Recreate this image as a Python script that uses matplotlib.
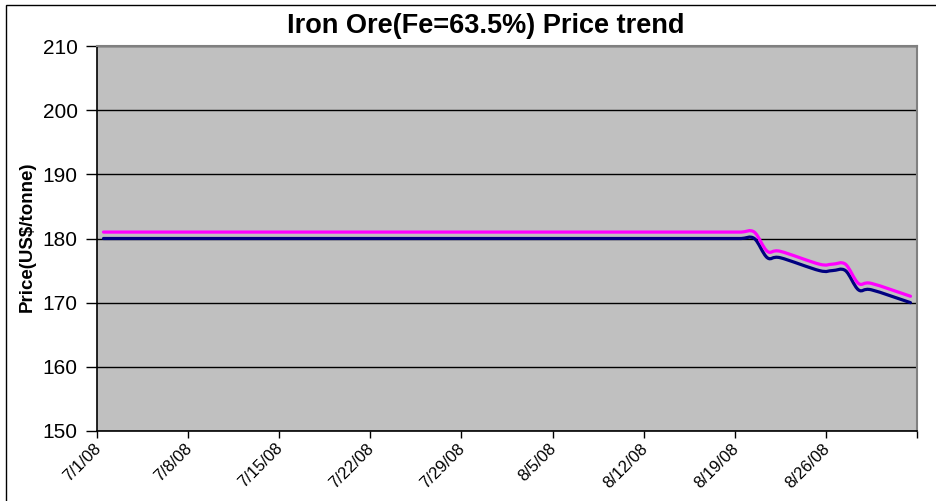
import matplotlib
matplotlib.use("Agg")
import matplotlib.pyplot as plt
import matplotlib.dates as mdates
import matplotlib.transforms as mtransforms
from matplotlib.path import Path
from matplotlib.patches import PathPatch, Rectangle
import numpy as np
import pandas as pd

plt.rcParams['font.family'] = ['Liberation Sans', 'DejaVu Sans']

# ---------------- data ----------------
dates = [
    "2008-07-01", "2008-07-02", "2008-07-03", "2008-07-04", "2008-07-07",
    "2008-07-08", "2008-07-09", "2008-07-10", "2008-07-11", "2008-07-14",
    "2008-07-15", "2008-07-16", "2008-07-17", "2008-07-18", "2008-07-21",
    "2008-07-22", "2008-07-23", "2008-07-24", "2008-07-25", "2008-07-28",
    "2008-07-29", "2008-07-30", "2008-07-31", "2008-08-01", "2008-08-04",
    "2008-08-05", "2008-08-06", "2008-08-07", "2008-08-08", "2008-08-11",
    "2008-08-12", "2008-08-13", "2008-08-14", "2008-08-15", "2008-08-18",
    "2008-08-19", "2008-08-20", "2008-08-21", "2008-08-22", "2008-08-25",
    "2008-08-26", "2008-08-27", "2008-08-28", "2008-08-29", "2008-09-01",
]
price_low = [
    180, 180, 180, 180, 180, 180, 180, 180, 180, 180,
    180, 180, 180, 180, 180, 180, 180, 180, 180, 180,
    180, 180, 180, 180, 180, 180, 180, 180, 180, 180,
    180, 180, 180, 180, 180, 180, 180, 177, 177, 175,
    175, 175, 172, 172, 170,
]
price_high = [
    181, 181, 181, 181, 181, 181, 181, 181, 181, 181,
    181, 181, 181, 181, 181, 181, 181, 181, 181, 181,
    181, 181, 181, 181, 181, 181, 181, 181, 181, 181,
    181, 181, 181, 181, 181, 181, 181, 178, 178, 176,
    176, 176, 173, 173, 171,
]
tick_dates = ["2008-07-01", "2008-07-08", "2008-07-15", "2008-07-22", "2008-07-29",
              "2008-08-05", "2008-08-12", "2008-08-19", "2008-08-26", "2008-09-02"]
tick_labels = ["7/1/08", "7/8/08", "7/15/08", "7/22/08", "7/29/08",
               "8/5/08", "8/12/08", "8/19/08", "8/26/08", ""]
y_ticks = [150, 160, 170, 180, 190, 200, 210]
title = "Iron Ore(Fe=63.5%) Price trend"
ylabel = "Price(US\\$/tonne)"

# ---------------- figure ----------------
W, H = 937, 501
fig = plt.figure(figsize=(W / 100, H / 100), dpi=100)
fig.patch.set_facecolor("white")
ax = fig.add_axes([97 / W, (H - 431) / H, (917 - 97) / W, (431 - 46) / H])
ax.set_facecolor("#C0C0C0")

# outer chart border (left & top visible)
fig.patches.append(Rectangle((6 / W, -0.2), 1.2, (H - 5) / H + 0.2,
                             transform=fig.transFigure, fill=False,
                             edgecolor="black", linewidth=1.0, clip_on=False))

x = mdates.date2num(pd.to_datetime(dates) + pd.Timedelta(hours=12))


def smooth_path(xs, ys):
    xs = np.asarray(xs, float)
    ys = np.asarray(ys, float)
    pts = np.column_stack([xs, ys])
    n = len(pts)
    verts = [pts[0]]
    codes = [Path.MOVETO]
    for i in range(n - 1):
        p0 = pts[i - 1] if i > 0 else pts[i]
        p1 = pts[i]
        p2 = pts[i + 1]
        p3 = pts[i + 2] if i + 2 < n else pts[i + 1]
        c1 = p1 + (p2 - p0) / 6.0
        c2 = p2 - (p3 - p1) / 6.0
        verts += [c1, c2, p2]
        codes += [Path.CURVE4] * 3
    return Path(verts, codes)


for vals, col in [(price_low, "#000080"), (price_high, "#FF00FF")]:
    ax.add_patch(PathPatch(smooth_path(x, vals), fill=False, edgecolor=col,
                           linewidth=2.3, capstyle="round", joinstyle="round",
                           zorder=3))

tx = mdates.date2num(pd.to_datetime(tick_dates))
ax.set_xlim(tx[0], tx[-1])
ax.set_ylim(150, 210)
ax.set_yticks(y_ticks)
ax.set_xticks(tx)
ax.set_xticklabels(tick_labels, rotation=45, ha="right", va="top",
                   rotation_mode="anchor", fontsize=12)
ax.tick_params(axis="x", length=5, width=1, color="black", pad=2)
ax.tick_params(axis="y", length=8, width=1, color="black", labelsize=15, pad=6)

shift = mtransforms.ScaledTranslation(-4 / 100, 0, fig.dpi_scale_trans)
for lbl in ax.get_xticklabels():
    lbl.set_transform(lbl.get_transform() + shift)

ax.grid(axis="y", color="black", linewidth=1.0)
ax.grid(axis="x", visible=False)
ax.set_axisbelow(True)

for s in ["left", "bottom"]:
    ax.spines[s].set_color("black")
    ax.spines[s].set_linewidth(1.2)
for s in ["top", "right"]:
    ax.spines[s].set_color("#808080")
    ax.spines[s].set_linewidth(1.5)

fig.text(486 / W, 1 - 26 / H, title, ha="center", va="center",
         fontsize=19.5, fontweight="bold")
fig.text(27 / W, 1 - 237 / H, ylabel, ha="center", va="center",
         rotation=90, fontsize=13.5, fontweight="bold")

fig.savefig("out.png", dpi=100)
